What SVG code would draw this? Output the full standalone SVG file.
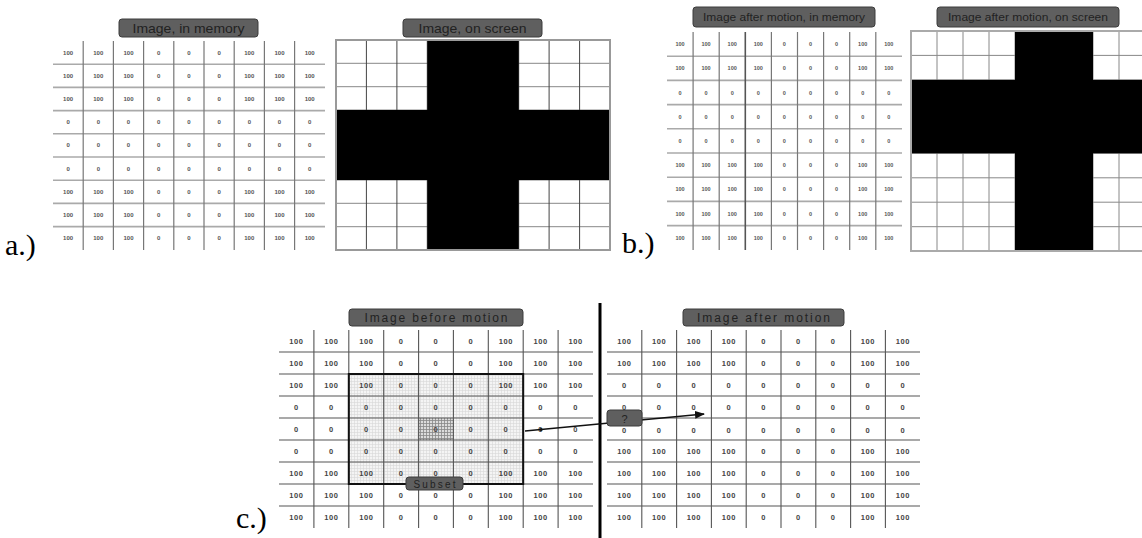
<svg xmlns="http://www.w3.org/2000/svg" width="1142" height="538" viewBox="0 0 1142 538">
<style>
.lab{fill:#5f5f5f;stroke:#3c3c3c;stroke-width:1}
.labt{font-family:"Liberation Sans",Arial,sans-serif;fill:#222;text-anchor:middle}
.big{font-family:"Liberation Serif","Times New Roman",serif;font-size:30px;fill:#000}
.na{font-family:"Liberation Sans",Arial,sans-serif;font-size:6px;font-weight:bold;fill:#555;text-anchor:middle}
.nb{font-family:"Liberation Sans",Arial,sans-serif;font-size:5.5px;font-weight:bold;fill:#555;text-anchor:middle}
.nc{font-family:"Liberation Sans",Arial,sans-serif;font-size:7.5px;font-weight:bold;fill:#444;text-anchor:middle;letter-spacing:0.6px}
.hl{stroke:#aaa;stroke-width:1.6}
.vl{stroke:#777;stroke-width:1.2}
.sl{stroke:#444;stroke-width:1}
.sh{stroke:#888;stroke-width:1}
.cl{stroke:#555;stroke-width:1.1}
</style>
<defs>
<pattern id="fine" width="3" height="3" patternUnits="userSpaceOnUse">
<rect width="3" height="3" fill="#f4f4f4"/>
<path d="M0 0.5H3M0.5 0V3" stroke="#d6d6d6" stroke-width="0.6"/>
</pattern>
<pattern id="dark" width="3" height="3" patternUnits="userSpaceOnUse">
<rect width="3" height="3" fill="#dcdcdc"/>
<path d="M0 0.5H3M0.5 0V3" stroke="#888" stroke-width="0.8"/>
</pattern>
<marker id="ah" markerWidth="10" markerHeight="8" refX="9" refY="4" orient="auto" markerUnits="userSpaceOnUse">
<path d="M0 0L10 4L0 8Z" fill="#111"/>
</marker>
</defs>
<rect width="1142" height="538" fill="#fff"/>

<!-- Panel a memory grid -->
<g id="a-memory">
<path class="hl" d="M53 64.2H325M53 87.4H325M53 110.6H325M53 133.8H325M53 157H325M53 180.2H325M53 203.4H325M53 226.6H325"/>
<path class="vl" d="M83.2 41V250M113.4 41V250M143.6 41V250M173.8 41V250M204 41V250M234.2 41V250M264.4 41V250M294.6 41V250"/>
<g class="na">
<g transform="translate(0,54.6)"><text x="68.1">100</text><text x="98.3">100</text><text x="128.5">100</text><text x="158.7">0</text><text x="188.9">0</text><text x="219.1">0</text><text x="249.3">100</text><text x="279.5">100</text><text x="309.7">100</text></g>
<g transform="translate(0,77.8)"><text x="68.1">100</text><text x="98.3">100</text><text x="128.5">100</text><text x="158.7">0</text><text x="188.9">0</text><text x="219.1">0</text><text x="249.3">100</text><text x="279.5">100</text><text x="309.7">100</text></g>
<g transform="translate(0,101)"><text x="68.1">100</text><text x="98.3">100</text><text x="128.5">100</text><text x="158.7">0</text><text x="188.9">0</text><text x="219.1">0</text><text x="249.3">100</text><text x="279.5">100</text><text x="309.7">100</text></g>
<g transform="translate(0,124.2)"><text x="68.1">0</text><text x="98.3">0</text><text x="128.5">0</text><text x="158.7">0</text><text x="188.9">0</text><text x="219.1">0</text><text x="249.3">0</text><text x="279.5">0</text><text x="309.7">0</text></g>
<g transform="translate(0,147.4)"><text x="68.1">0</text><text x="98.3">0</text><text x="128.5">0</text><text x="158.7">0</text><text x="188.9">0</text><text x="219.1">0</text><text x="249.3">0</text><text x="279.5">0</text><text x="309.7">0</text></g>
<g transform="translate(0,170.6)"><text x="68.1">0</text><text x="98.3">0</text><text x="128.5">0</text><text x="158.7">0</text><text x="188.9">0</text><text x="219.1">0</text><text x="249.3">0</text><text x="279.5">0</text><text x="309.7">0</text></g>
<g transform="translate(0,193.8)"><text x="68.1">100</text><text x="98.3">100</text><text x="128.5">100</text><text x="158.7">0</text><text x="188.9">0</text><text x="219.1">0</text><text x="249.3">100</text><text x="279.5">100</text><text x="309.7">100</text></g>
<g transform="translate(0,217)"><text x="68.1">100</text><text x="98.3">100</text><text x="128.5">100</text><text x="158.7">0</text><text x="188.9">0</text><text x="219.1">0</text><text x="249.3">100</text><text x="279.5">100</text><text x="309.7">100</text></g>
<g transform="translate(0,240.2)"><text x="68.1">100</text><text x="98.3">100</text><text x="128.5">100</text><text x="158.7">0</text><text x="188.9">0</text><text x="219.1">0</text><text x="249.3">100</text><text x="279.5">100</text><text x="309.7">100</text></g>
</g>
<rect class="lab" x="119" y="19" width="139" height="18" rx="3"/>
<text class="labt" x="188.5" y="32.5" font-size="13" textLength="112" lengthAdjust="spacingAndGlyphs">Image, in memory</text>
<text class="big" x="5" y="255">a.)</text>
</g>

<!-- Panel a screen -->
<g id="a-screen">
<rect x="336" y="40" width="274" height="210" fill="#fff"/>
<path class="sh" d="M336 63.3H610M336 86.7H610M336 110H610M336 133.3H610M336 156.7H610M336 180H610M336 203.3H610M336 226.7H610"/>
<path class="sl" d="M366.4 40V250M396.9 40V250M427.3 40V250M457.8 40V250M488.2 40V250M518.7 40V250M549.1 40V250M579.6 40V250"/>
<rect x="427.3" y="40" width="91.4" height="210" fill="#000"/>
<rect x="336" y="110" width="274" height="70" fill="#000"/>
<rect x="336" y="40" width="274" height="210" fill="none" stroke="#999" stroke-width="2"/>
<rect class="lab" x="403" y="19" width="139" height="18" rx="3"/>
<text class="labt" x="472.5" y="32.5" font-size="13" textLength="108" lengthAdjust="spacingAndGlyphs">Image, on screen</text>
</g>

<!-- Panel b memory grid -->
<g id="b-memory">
<path class="hl" d="M667 56.2H902M667 80.4H902M667 104.6H902M667 128.8H902M667 153H902M667 177.2H902M667 201.4H902M667 225.6H902"/>
<path class="vl" d="M693.1 32V250M719.2 32V250M771.4 32V250M797.5 32V250M823.6 32V250M849.7 32V250M875.8 32V250"/>
<path d="M745.3 32V250" stroke="#555" stroke-width="1.6"/>
<g class="nb">
<g transform="translate(0,46.1)"><text x="680">100</text><text x="706.1">100</text><text x="732.2">100</text><text x="758.3">100</text><text x="784.4">0</text><text x="810.5">0</text><text x="836.6">0</text><text x="862.7">100</text><text x="888.8">100</text></g>
<g transform="translate(0,70.3)"><text x="680">100</text><text x="706.1">100</text><text x="732.2">100</text><text x="758.3">100</text><text x="784.4">0</text><text x="810.5">0</text><text x="836.6">0</text><text x="862.7">100</text><text x="888.8">100</text></g>
<g transform="translate(0,94.5)"><text x="680">0</text><text x="706.1">0</text><text x="732.2">0</text><text x="758.3">0</text><text x="784.4">0</text><text x="810.5">0</text><text x="836.6">0</text><text x="862.7">0</text><text x="888.8">0</text></g>
<g transform="translate(0,118.7)"><text x="680">0</text><text x="706.1">0</text><text x="732.2">0</text><text x="758.3">0</text><text x="784.4">0</text><text x="810.5">0</text><text x="836.6">0</text><text x="862.7">0</text><text x="888.8">0</text></g>
<g transform="translate(0,142.9)"><text x="680">0</text><text x="706.1">0</text><text x="732.2">0</text><text x="758.3">0</text><text x="784.4">0</text><text x="810.5">0</text><text x="836.6">0</text><text x="862.7">0</text><text x="888.8">0</text></g>
<g transform="translate(0,167.1)"><text x="680">100</text><text x="706.1">100</text><text x="732.2">100</text><text x="758.3">100</text><text x="784.4">0</text><text x="810.5">0</text><text x="836.6">0</text><text x="862.7">100</text><text x="888.8">100</text></g>
<g transform="translate(0,191.3)"><text x="680">100</text><text x="706.1">100</text><text x="732.2">100</text><text x="758.3">100</text><text x="784.4">0</text><text x="810.5">0</text><text x="836.6">0</text><text x="862.7">100</text><text x="888.8">100</text></g>
<g transform="translate(0,215.5)"><text x="680">100</text><text x="706.1">100</text><text x="732.2">100</text><text x="758.3">100</text><text x="784.4">0</text><text x="810.5">0</text><text x="836.6">0</text><text x="862.7">100</text><text x="888.8">100</text></g>
<g transform="translate(0,239.7)"><text x="680">100</text><text x="706.1">100</text><text x="732.2">100</text><text x="758.3">100</text><text x="784.4">0</text><text x="810.5">0</text><text x="836.6">0</text><text x="862.7">100</text><text x="888.8">100</text></g>
</g>
<rect class="lab" x="693" y="7" width="182" height="20" rx="3"/>
<text class="labt" x="784" y="21" font-size="11" textLength="162" lengthAdjust="spacingAndGlyphs">Image after motion, in memory</text>
<text class="big" x="622" y="253">b.)</text>
</g>

<!-- Panel b screen -->
<g id="b-screen">
<rect x="911" y="31" width="234" height="220" fill="#fff"/>
<path class="sh" d="M911 55.4H1145M911 79.9H1145M911 104.3H1145M911 128.8H1145M911 153.3H1145M911 177.8H1145M911 202.2H1145M911 226.7H1145"/>
<path class="sh" d="M937 31V251M963 31V251M989 31V251M1015 31V251M1041 31V251M1067 31V251M1093 31V251M1119 31V251"/>
<rect x="1015" y="31" width="78" height="220" fill="#000"/>
<rect x="911" y="79.9" width="234" height="73.4" fill="#000"/>
<rect x="911" y="31" width="234" height="220" fill="none" stroke="#aaa" stroke-width="2"/>
<rect class="lab" x="937" y="7" width="182" height="20" rx="3"/>
<text class="labt" x="1028" y="21" font-size="11" textLength="160" lengthAdjust="spacingAndGlyphs">Image after motion, on screen</text>
</g>

<!-- Panel c before -->
<g id="c-before">
<rect x="348.8" y="374" width="174.4" height="110" fill="url(#fine)"/>
<rect x="418.6" y="418" width="34.8" height="22" fill="url(#dark)"/>
<path class="cl" d="M279 352H593M279 374H593M279 396H593M279 418H593M279 440H593M279 462H593M279 484H593M279 506H593"/>
<path class="cl" d="M313.9 330V528M348.8 330V528M383.7 330V528M418.6 330V528M453.4 330V528M488.3 330V528M523.2 330V528M558.1 330V528"/>
<g class="nc">
<g transform="translate(0,343.7)"><text x="296.5">100</text><text x="331.4">100</text><text x="366.3">100</text><text x="401.2">0</text><text x="436">0</text><text x="470.9">0</text><text x="505.8">100</text><text x="540.7">100</text><text x="575.6">100</text></g>
<g transform="translate(0,365.7)"><text x="296.5">100</text><text x="331.4">100</text><text x="366.3">100</text><text x="401.2">0</text><text x="436">0</text><text x="470.9">0</text><text x="505.8">100</text><text x="540.7">100</text><text x="575.6">100</text></g>
<g transform="translate(0,387.7)"><text x="296.5">100</text><text x="331.4">100</text><text x="366.3">100</text><text x="401.2">0</text><text x="436">0</text><text x="470.9">0</text><text x="505.8">100</text><text x="540.7">100</text><text x="575.6">100</text></g>
<g transform="translate(0,409.7)"><text x="296.5">0</text><text x="331.4">0</text><text x="366.3">0</text><text x="401.2">0</text><text x="436">0</text><text x="470.9">0</text><text x="505.8">0</text><text x="540.7">0</text><text x="575.6">0</text></g>
<g transform="translate(0,431.7)"><text x="296.5">0</text><text x="331.4">0</text><text x="366.3">0</text><text x="401.2">0</text><text x="436">0</text><text x="470.9">0</text><text x="505.8">0</text><text x="540.7">0</text><text x="575.6">0</text></g>
<g transform="translate(0,453.7)"><text x="296.5">0</text><text x="331.4">0</text><text x="366.3">0</text><text x="401.2">0</text><text x="436">0</text><text x="470.9">0</text><text x="505.8">0</text><text x="540.7">0</text><text x="575.6">0</text></g>
<g transform="translate(0,475.7)"><text x="296.5">100</text><text x="331.4">100</text><text x="366.3">100</text><text x="401.2">0</text><text x="436">0</text><text x="470.9">0</text><text x="505.8">100</text><text x="540.7">100</text><text x="575.6">100</text></g>
<g transform="translate(0,497.7)"><text x="296.5">100</text><text x="331.4">100</text><text x="366.3">100</text><text x="401.2">0</text><text x="436">0</text><text x="470.9">0</text><text x="505.8">100</text><text x="540.7">100</text><text x="575.6">100</text></g>
<g transform="translate(0,519.7)"><text x="296.5">100</text><text x="331.4">100</text><text x="366.3">100</text><text x="401.2">0</text><text x="436">0</text><text x="470.9">0</text><text x="505.8">100</text><text x="540.7">100</text><text x="575.6">100</text></g>
</g>
<rect x="348.8" y="374" width="174.4" height="110" fill="none" stroke="#111" stroke-width="2"/>
<rect class="lab" x="349" y="309" width="174" height="17" rx="3"/>
<text class="labt" x="436" y="322" font-size="12" textLength="143" lengthAdjust="spacing">Image before motion</text>
<text class="big" x="236" y="528">c.)</text>
</g>

<g id="subset-label">
<rect class="lab" x="406" y="477" width="57" height="13" rx="3"/>
<text class="labt" x="434.5" y="487.5" font-size="10" textLength="42" lengthAdjust="spacing">Subset</text>
</g>

<!-- divider -->
<path d="M600 303V538" stroke="#000" stroke-width="3"/>

<!-- Panel c after -->
<g id="c-after">
<path class="cl" d="M607 352H920M607 374H920M607 396H920M607 418H920M607 440H920M607 462H920M607 484H920M607 506H920"/>
<path class="cl" d="M641.8 330V528M676.6 330V528M711.4 330V528M746.2 330V528M781 330V528M815.8 330V528M850.6 330V528M885.4 330V528"/>
<g class="nc">
<g transform="translate(0,343.7)"><text x="624.4">100</text><text x="659.2">100</text><text x="694">100</text><text x="728.8">100</text><text x="763.6">0</text><text x="798.4">0</text><text x="833.2">0</text><text x="868">100</text><text x="902.8">100</text></g>
<g transform="translate(0,365.7)"><text x="624.4">100</text><text x="659.2">100</text><text x="694">100</text><text x="728.8">100</text><text x="763.6">0</text><text x="798.4">0</text><text x="833.2">0</text><text x="868">100</text><text x="902.8">100</text></g>
<g transform="translate(0,387.7)"><text x="624.4">0</text><text x="659.2">0</text><text x="694">0</text><text x="728.8">0</text><text x="763.6">0</text><text x="798.4">0</text><text x="833.2">0</text><text x="868">0</text><text x="902.8">0</text></g>
<g transform="translate(0,409.7)"><text x="624.4">0</text><text x="659.2">0</text><text x="694">0</text><text x="728.8">0</text><text x="763.6">0</text><text x="798.4">0</text><text x="833.2">0</text><text x="868">0</text><text x="902.8">0</text></g>
<g transform="translate(0,433.2)"><text x="624.4">0</text><text x="659.2">0</text><text x="694">0</text><text x="728.8">0</text><text x="763.6">0</text><text x="798.4">0</text><text x="833.2">0</text><text x="868">0</text><text x="902.8">0</text></g>
<g transform="translate(0,453.7)"><text x="624.4">100</text><text x="659.2">100</text><text x="694">100</text><text x="728.8">100</text><text x="763.6">0</text><text x="798.4">0</text><text x="833.2">0</text><text x="868">100</text><text x="902.8">100</text></g>
<g transform="translate(0,475.7)"><text x="624.4">100</text><text x="659.2">100</text><text x="694">100</text><text x="728.8">100</text><text x="763.6">0</text><text x="798.4">0</text><text x="833.2">0</text><text x="868">100</text><text x="902.8">100</text></g>
<g transform="translate(0,497.7)"><text x="624.4">100</text><text x="659.2">100</text><text x="694">100</text><text x="728.8">100</text><text x="763.6">0</text><text x="798.4">0</text><text x="833.2">0</text><text x="868">100</text><text x="902.8">100</text></g>
<g transform="translate(0,519.7)"><text x="624.4">100</text><text x="659.2">100</text><text x="694">100</text><text x="728.8">100</text><text x="763.6">0</text><text x="798.4">0</text><text x="833.2">0</text><text x="868">100</text><text x="902.8">100</text></g>
</g>
<rect class="lab" x="683" y="309" width="161" height="17" rx="3"/>
<text class="labt" x="763.5" y="322" font-size="12" textLength="133" lengthAdjust="spacing">Image after motion</text>
</g>

<!-- connector -->
<g id="connectors">
<path d="M525 431L704 414" stroke="#111" stroke-width="1.6" fill="none" marker-end="url(#ah)"/>
<circle cx="541" cy="429.5" r="1.6" fill="#111"/>
</g>

<g id="question">
<rect class="lab" x="607" y="410" width="35" height="16" rx="3"/>
<text class="labt" x="624.5" y="422.5" font-size="11">?</text>
</g>
</svg>
